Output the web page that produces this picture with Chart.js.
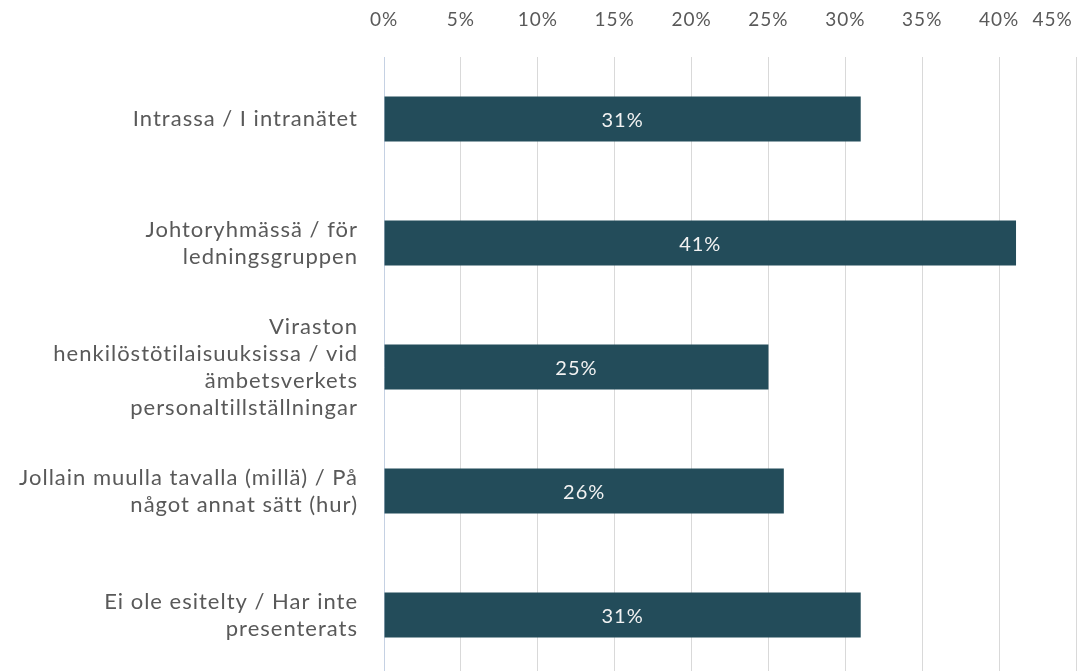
<!DOCTYPE html>
<html lang="fi">
  <head>
    <meta charset="UTF-8" />
    <title>Esittely</title>
    <script src="https://cdn.jsdelivr.net/npm/chart.js"></script>
    <style>
      body { margin: 0; overflow: hidden; background: #fff; }
      #wrap { width: 1082px; height: 677px; position: relative; }
    </style>
  </head>
  <body>
    <div id="wrap"><canvas id="chart"></canvas></div>

    <script>
      // Kategoriat (rivit ylhäältä alas)
      const categories = [
        "Intrassa / I intranätet",
        ["Johtoryhmässä / för", "ledningsgruppen"],
        ["Viraston", "henkilöstötilaisuuksissa / vid", "ämbetsverkets", "personaltillställningar"],
        ["Jollain muulla tavalla (millä) / På", "något annat sätt (hur)"],
        ["Ei ole esitelty / Har inte", "presenterats"],
      ];
      // Osuudet prosentteina
      const shares = [31, 41.1, 25, 26, 31];
      // X-akselin jaotus
      const tickStep = 5;
      const axisMax = 45;

      const textGrey = "#595959";
      const barColor = "#234C5A";

      // Lato on kapeampi kuin alkuperäinen, joten vähän välistystä
      const spacing = {
        id: "spacing",
        beforeUpdate(chart) { chart.ctx.letterSpacing = "1px"; },
        beforeDraw(chart) { chart.ctx.letterSpacing = "1px"; },
      };

      // Arvot palkkien keskelle
      const barLabels = {
        id: "barLabels",
        afterDatasetsDraw(chart) {
          const ctx = chart.ctx;
          const meta = chart.getDatasetMeta(0);
          ctx.save();
          ctx.fillStyle = "#f2f2f2";
          ctx.font = "20px Lato";
          ctx.letterSpacing = "1px";
          ctx.textAlign = "center";
          ctx.textBaseline = "middle";
          meta.data.forEach((bar, i) => {
            const x = (bar.x + bar.base) / 2;
            ctx.fillText(Math.round(shares[i]) + "%", x, bar.y + 2);
          });
          ctx.restore();
        },
      };

      new Chart(document.getElementById("chart"), {
        type: "bar",
        data: {
          labels: categories,
          datasets: [
            {
              data: shares,
              backgroundColor: barColor,
              borderWidth: 0,
              barPercentage: 0.364,
              categoryPercentage: 1,
            },
          ],
        },
        plugins: [spacing, barLabels],
        options: {
          indexAxis: "y",
          responsive: true,
          maintainAspectRatio: false,
          animation: false,
          layout: { padding: 0 },
          plugins: {
            legend: { display: false },
            tooltip: { enabled: false },
          },
          scales: {
            x: {
              position: "top",
              min: 0,
              max: axisMax,
              border: { display: false },
              grid: {
                color: (c) => (c.tick && c.tick.value === 0 ? "rgba(0,0,0,0)" : "#d9d9d9"),
                lineWidth: 1,
                drawTicks: false,
              },
              ticks: {
                stepSize: tickStep,
                autoSkip: false,
                padding: 26,
                color: textGrey,
                font: { family: "Lato", size: 19 },
                maxRotation: 0,
                callback: (v) => (v === axisMax ? v + "%        " : v + "%"),
              },
              afterFit: (s) => {
                s.height = 57;
                s.paddingRight = 6;
                s.paddingLeft = 0;
              },
            },
            y: {
              border: { display: true, color: "#c5d1e3", width: 1 },
              grid: { display: false, drawTicks: false },
              ticks: {
                padding: 26,
                color: textGrey,
                font: { family: "Lato", size: 22, lineHeight: 1.23 },
              },
              afterFit: (s) => {
                s.width = 384;
                s.paddingTop = 0;
                s.paddingBottom = 0;
              },
            },
          },
        },
      });
    </script>
  </body>
</html>
